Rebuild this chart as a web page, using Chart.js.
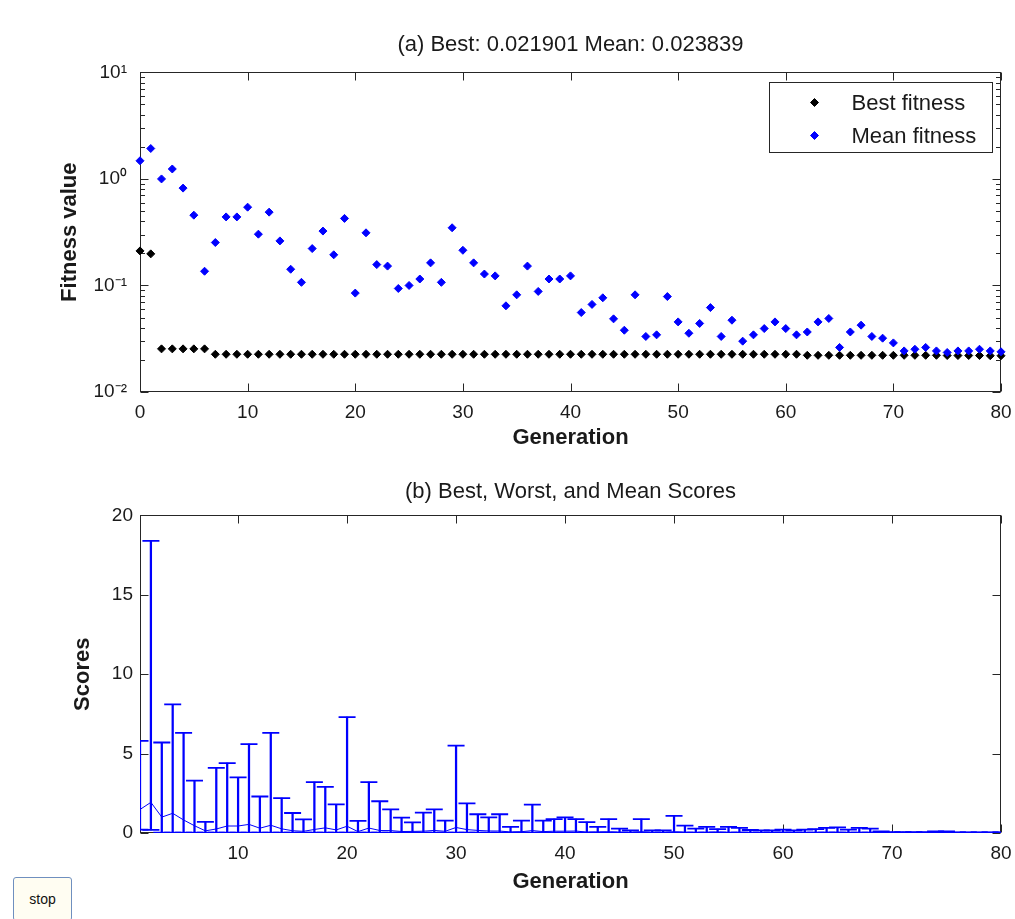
<!DOCTYPE html>
<html>
<head>
<meta charset="utf-8">
<script src="https://cdn.jsdelivr.net/npm/chart.js@4.4.1/dist/chart.umd.min.js"></script>
<style>
  body { margin: 0; background: #ffffff; }
  #wrap { position: relative; width: 1015px; height: 919px; overflow: hidden; background: #ffffff; }
  canvas { position: absolute; left: 0; }
  #stopBtn {
    position: absolute; left: 13px; top: 877px; width: 59px; height: 44px;
    background: #fffdf2; border: 1px solid #6f8fbf; border-radius: 3px;
    font: 14px "Liberation Sans", Arial, sans-serif; color: #111; padding: 0;
  }
</style>
</head>
<body>
<div id="wrap">
  <canvas id="fitnessChart" width="1015" height="460" style="top:0"></canvas>
  <canvas id="scoresChart" width="1015" height="459" style="top:460px"></canvas>
  <button id="stopBtn">stop</button>
</div>
<script>
// (a) fitness per generation 0..80
var generations = [];
for (var g = 0; g <= 80; g++) generations.push(g);

var bestFitness = [
  0.211, 0.198, 0.0254, 0.0254, 0.0254, 0.0254, 0.0254, 0.0226, 0.0226, 0.0226,
  0.0226, 0.0226, 0.0226, 0.0226, 0.0226, 0.0226, 0.0226, 0.0226, 0.0226, 0.0226,
  0.0226, 0.0226, 0.0226, 0.0226, 0.0226, 0.0226, 0.0226, 0.0226, 0.0226, 0.0226,
  0.0226, 0.0226, 0.0226, 0.0226, 0.0226, 0.0226, 0.0226, 0.0226, 0.0226, 0.0226,
  0.0226, 0.0226, 0.0226, 0.0226, 0.0226, 0.0226, 0.0226, 0.0226, 0.0226, 0.0226,
  0.0226, 0.0226, 0.0226, 0.0226, 0.0226, 0.0226, 0.0226, 0.0226, 0.0226, 0.0226,
  0.0226, 0.0226, 0.0221, 0.0221, 0.0221, 0.0221, 0.0221, 0.0221, 0.0221, 0.0221,
  0.0221, 0.0221, 0.0221, 0.0221, 0.0221, 0.0220, 0.0220, 0.0220, 0.0220, 0.0219,
  0.021901
];

var meanFitness = [
  1.48, 1.93, 1.00, 1.24, 0.82, 0.457, 0.136, 0.253, 0.44, 0.44,
  0.543, 0.303, 0.488, 0.262, 0.142, 0.107, 0.222, 0.324, 0.194, 0.426,
  0.0848, 0.312, 0.157, 0.152, 0.0937, 0.100, 0.115, 0.163, 0.107, 0.348,
  0.214, 0.163, 0.128, 0.123, 0.0644, 0.0817, 0.152, 0.0879, 0.115, 0.115,
  0.123, 0.0557, 0.0664, 0.0766, 0.0486, 0.038, 0.0817, 0.0332, 0.0344, 0.0787,
  0.0455, 0.0356, 0.044, 0.062, 0.0332, 0.0472, 0.030, 0.0344, 0.0394, 0.0455,
  0.0394, 0.0344, 0.0366, 0.0455, 0.049, 0.0262, 0.0366, 0.0424, 0.0332, 0.032,
  0.0289, 0.0243, 0.0252, 0.0262, 0.0243, 0.0235, 0.0243, 0.0243, 0.0252, 0.0243,
  0.023839
];

var fitnessGenTicks = [0, 10, 20, 30, 40, 50, 60, 70, 80];
var fitnessDecades = [0.01, 0.1, 1, 10];

// (b) score range per generation 1..80
var scoreGens = generations.slice(1);
var scoreBest = bestFitness.slice(0, 80);
var scoreMean = meanFitness.slice(0, 80);
var scoreWorst = [
  5.8, 18.4, 5.7, 8.1, 6.3, 3.3, 0.7, 4.1, 4.4, 3.5,
  5.6, 2.3, 6.3, 2.2, 1.26, 0.86, 3.2, 2.9, 1.8, 7.3,
  0.76, 3.2, 2.0, 1.49, 0.97, 0.67, 1.28, 1.49, 0.78, 5.5,
  1.87, 1.18, 0.99, 1.18, 0.38, 0.78, 1.79, 0.78, 0.88, 0.99,
  0.88, 0.69, 0.38, 0.88, 0.28, 0.17, 0.88, 0.17, 0.17, 1.08,
  0.46, 0.27, 0.38, 0.25, 0.38, 0.32, 0.19, 0.17, 0.17, 0.21,
  0.17, 0.21, 0.25, 0.32, 0.36, 0.21, 0.32, 0.27, 0.10, 0.06,
  0.06, 0.05, 0.05, 0.10, 0.10, 0.03, 0.03, 0.03, 0.03, 0.03
];
var scoreGenTicks = [10, 20, 30, 40, 50, 60, 70, 80];

var FONT = '"Liberation Sans", Arial, Helvetica, sans-serif';
var INK = '#1a1a1a';
var BLUE = '#0000ff';

function points(xs, ys) {
  return xs.map(function (x, i) { return {x: x, y: ys[i]}; });
}

function isDecade(v) {
  var l = Math.log10(v);
  return Math.abs(l - Math.round(l)) < 1e-9;
}

var SUP = {'-': '\u207B', '0': '\u2070', '1': '\u00B9', '2': '\u00B2', '3': '\u00B3'};
function powLabel(v) {
  var e = String(Math.round(Math.log10(v)));
  return '10' + e.split('').map(function (c) { return SUP[c]; }).join('');
}

// keep the plot box where MATLAB put it: labels may hang over the edges
function fixX(height) {
  return function (s) {
    s.height = height;
    s.paddingLeft = 0;
    s.paddingRight = 0;
  };
}

// box round the plot with inward tick marks on all four sides
var matlabFrame = {
  id: 'matlabFrame',
  beforeDatasetsDraw: function (chart) {
    var ctx = chart.ctx, a = chart.chartArea;
    var L = Math.round(a.left) + 0.5, R = Math.round(a.right) - 0.5;
    var T = Math.round(a.top) + 0.5, B = Math.round(a.bottom) - 0.5;
    ctx.save();
    ctx.strokeStyle = '#262626';
    ctx.lineWidth = 1;
    ctx.strokeRect(L, T, R - L, B - T);
    ctx.beginPath();
    chart.scales.x.ticks.forEach(function (t) {
      var px = Math.round(chart.scales.x.getPixelForValue(t.value)) + 0.5;
      ctx.moveTo(px, B); ctx.lineTo(px, B - 8);
      ctx.moveTo(px, T); ctx.lineTo(px, T + 8);
    });
    var ys = chart.scales.y;
    ys.ticks.forEach(function (t) {
      var py = Math.round(ys.getPixelForValue(t.value)) + 0.5;
      var len = (ys.type !== 'logarithmic' || isDecade(t.value)) ? 8 : 4.5;
      ctx.moveTo(L, py); ctx.lineTo(L + len, py);
      ctx.moveTo(R, py); ctx.lineTo(R - len, py);
    });
    ctx.stroke();
    ctx.restore();
  }
};

// boxed legend in the top right corner, like the MATLAB one
var boxedLegend = {
  id: 'boxedLegend',
  afterDraw: function (chart) {
    var ctx = chart.ctx, a = chart.chartArea;
    var w = 223, h = 70;
    var left = Math.round(a.right - 9 - w) + 0.5, top = Math.round(a.top + 10) + 0.5;
    ctx.save();
    ctx.fillStyle = '#ffffff';
    ctx.fillRect(left, top, w, h);
    ctx.strokeStyle = '#262626';
    ctx.lineWidth = 1;
    ctx.strokeRect(left, top, w, h);
    ctx.font = '22px ' + FONT;
    ctx.textBaseline = 'middle';
    chart.data.datasets.forEach(function (ds, i) {
      var cy = top + 20 + i * 33;
      ctx.fillStyle = ds.backgroundColor;
      ctx.strokeStyle = ds.borderColor;
      Chart.helpers.drawPoint(ctx, {
        pointStyle: ds.pointStyle, radius: ds.pointRadius, borderWidth: 1
      }, left + 45, cy);
      ctx.fillStyle = INK;
      ctx.fillText(ds.label, left + 82, cy + 1);
    });
    ctx.restore();
  }
};

function axisTitle(text, pad) {
  return {display: true, text: text, color: INK, font: {family: FONT, size: 22, weight: 'bold'}, padding: pad};
}

new Chart(document.getElementById('fitnessChart'), {
  type: 'scatter',
  data: {
    datasets: [{
      label: 'Best fitness',
      data: points(generations, bestFitness),
      pointStyle: 'rectRot', pointRadius: 4, borderWidth: 1,
      backgroundColor: '#000000', borderColor: '#000000',
      clip: false, order: 1
    }, {
      label: 'Mean fitness',
      data: points(generations, meanFitness),
      pointStyle: 'rectRot', pointRadius: 4, borderWidth: 1,
      backgroundColor: BLUE, borderColor: BLUE,
      clip: false, order: 0
    }]
  },
  options: {
    responsive: false,
    animation: false,
    events: [],
    layout: {padding: {left: 0, right: 14, top: 0, bottom: 0}},
    plugins: {
      legend: {display: false},
      tooltip: {enabled: false},
      title: {
        display: true, fullSize: false,
        text: '(a) Best: 0.021901 Mean: 0.023839',
        color: INK, font: {family: FONT, size: 22, weight: 'normal'},
        padding: {top: 32, bottom: 14}
      }
    },
    scales: {
      x: {
        type: 'linear', min: 0, max: 80,
        afterBuildTicks: function (s) { s.ticks = fitnessGenTicks.map(function (v) { return {value: v}; }); },
        afterFit: fixX(68),
        grid: {display: false, drawTicks: false},
        border: {display: false},
        ticks: {color: INK, font: {family: FONT, size: 19}, padding: 9, maxRotation: 0},
        title: axisTitle('Generation', {top: 0, bottom: 9})
      },
      y: {
        type: 'logarithmic', min: 0.01, max: 10,
        afterBuildTicks: function (s) {
          var ticks = [];
          fitnessDecades.forEach(function (d, i) {
            ticks.push({value: d});
            if (i < fitnessDecades.length - 1) {
              for (var m = 2; m <= 9; m++) ticks.push({value: d * m});
            }
          });
          s.ticks = ticks;
        },
        afterFit: function (s) { s.width = 140; },
        grid: {display: false, drawTicks: false},
        border: {display: false},
        ticks: {
          color: INK, font: {family: FONT, size: 19}, padding: 13, autoSkip: false,
          callback: function (v) { return isDecade(v) ? powLabel(v) : ''; }
        },
        title: axisTitle('Fitness value', {top: 57, bottom: 0})
      }
    }
  },
  plugins: [matlabFrame, boxedLegend]
});

var scoreBars = scoreGens.map(function (g, i) { return {x: g, y: [scoreBest[i], scoreWorst[i]]}; });

new Chart(document.getElementById('scoresChart'), {
  type: 'bar',
  data: {
    datasets: [{
      type: 'line',
      label: 'Mean',
      data: points(scoreGens, scoreMean),
      borderColor: BLUE, borderWidth: 1, pointRadius: 0, fill: false
    }, {
      type: 'bar',
      label: 'Range',
      data: scoreBars,
      backgroundColor: BLUE, borderWidth: 0, barThickness: 1.6
    }, {
      type: 'scatter',
      label: 'Worst',
      data: points(scoreGens, scoreWorst),
      pointStyle: 'line', pointRadius: 8.5, borderWidth: 1.8, borderColor: BLUE
    }, {
      type: 'scatter',
      label: 'Best',
      data: points(scoreGens, scoreBest),
      pointStyle: 'line', pointRadius: 8.5, borderWidth: 1.8, borderColor: BLUE
    }]
  },
  options: {
    responsive: false,
    animation: false,
    events: [],
    layout: {padding: {left: 0, right: 14, top: 0, bottom: 0}},
    plugins: {
      legend: {display: false},
      tooltip: {enabled: false},
      title: {
        display: true, fullSize: false,
        text: '(b) Best, Worst, and Mean Scores',
        color: INK, font: {family: FONT, size: 22, weight: 'normal'},
        padding: {top: 19, bottom: 10}
      }
    },
    scales: {
      x: {
        type: 'linear', min: 1, max: 80, offset: false,
        afterBuildTicks: function (s) { s.ticks = scoreGenTicks.map(function (v) { return {value: v}; }); },
        afterFit: fixX(86),
        grid: {display: false, drawTicks: false, offset: false},
        border: {display: false},
        ticks: {color: INK, font: {family: FONT, size: 19}, padding: 9, maxRotation: 0},
        title: axisTitle('Generation', {top: 0, bottom: 24})
      },
      y: {
        min: 0, max: 20,
        afterFit: function (s) { s.width = 140; },
        grid: {display: false, drawTicks: false},
        border: {display: false},
        ticks: {color: INK, font: {family: FONT, size: 19}, padding: 7, stepSize: 5},
        title: axisTitle('Scores', {top: 70, bottom: 0})
      }
    }
  },
  plugins: [matlabFrame]
});
</script>
</body>
</html>
